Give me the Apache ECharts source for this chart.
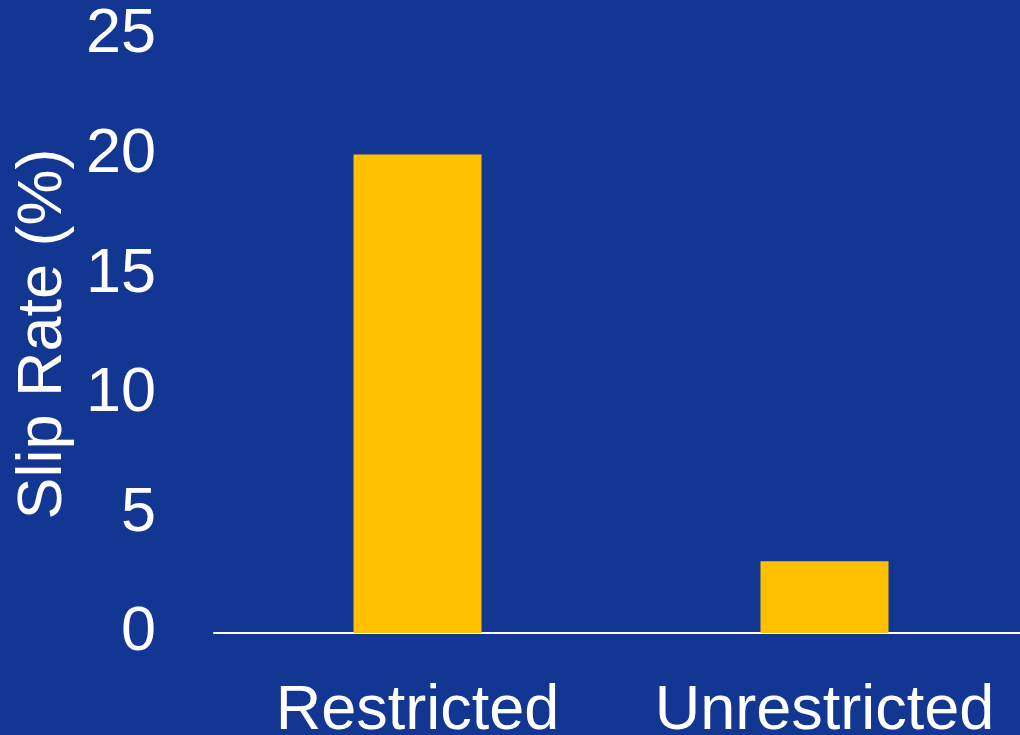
<!DOCTYPE html>
<html>
<head>
<meta charset="utf-8">
<script src="https://cdn.jsdelivr.net/npm/echarts@6/dist/echarts.min.js"></script>
<style>
  html, body { margin: 0; padding: 0; background: #133693; }
  #chart { width: 1020px; height: 735px; }
</style>
</head>
<body>
<div id="chart"></div>
<script>
// Slip rate by access condition
const categories = ['Restricted', 'Unrestricted'];
const slipRate = [20, 3];
const yTicks = [0, 5, 10, 15, 20, 25];

const font = '"Liberation Sans", Arial, sans-serif';
const chart = echarts.init(document.getElementById('chart'), null, { renderer: 'canvas' });

chart.setOption({
  backgroundColor: '#133693',
  animation: false,
  grid: { left: 214, width: 814, top: 35, bottom: 102, containLabel: false, outerBoundsMode: 'none' },
  xAxis: {
    type: 'category',
    data: categories,
    axisLine: { lineStyle: { color: '#ffffff', width: 2 } },
    axisTick: { show: false },
    axisLabel: { color: '#ffffff', fontFamily: font, fontSize: 63, margin: 47, interval: 0, hideOverlap: false }
  },
  yAxis: {
    type: 'value',
    min: yTicks[0],
    max: yTicks[yTicks.length - 1],
    interval: 5,
    name: 'Slip Rate (%)',
    nameLocation: 'middle',
    nameGap: 134,
    nameTextStyle: { color: '#ffffff', fontFamily: font, fontSize: 63 },
    axisLine: { show: false },
    axisTick: { show: false },
    splitLine: { show: false },
    axisLabel: { color: '#ffffff', fontFamily: font, fontSize: 63, margin: 58 }
  },
  series: [{
    type: 'bar',
    data: slipRate,
    barWidth: 128,
    itemStyle: { color: '#FFC000' }
  }]
});
</script>
</body>
</html>
